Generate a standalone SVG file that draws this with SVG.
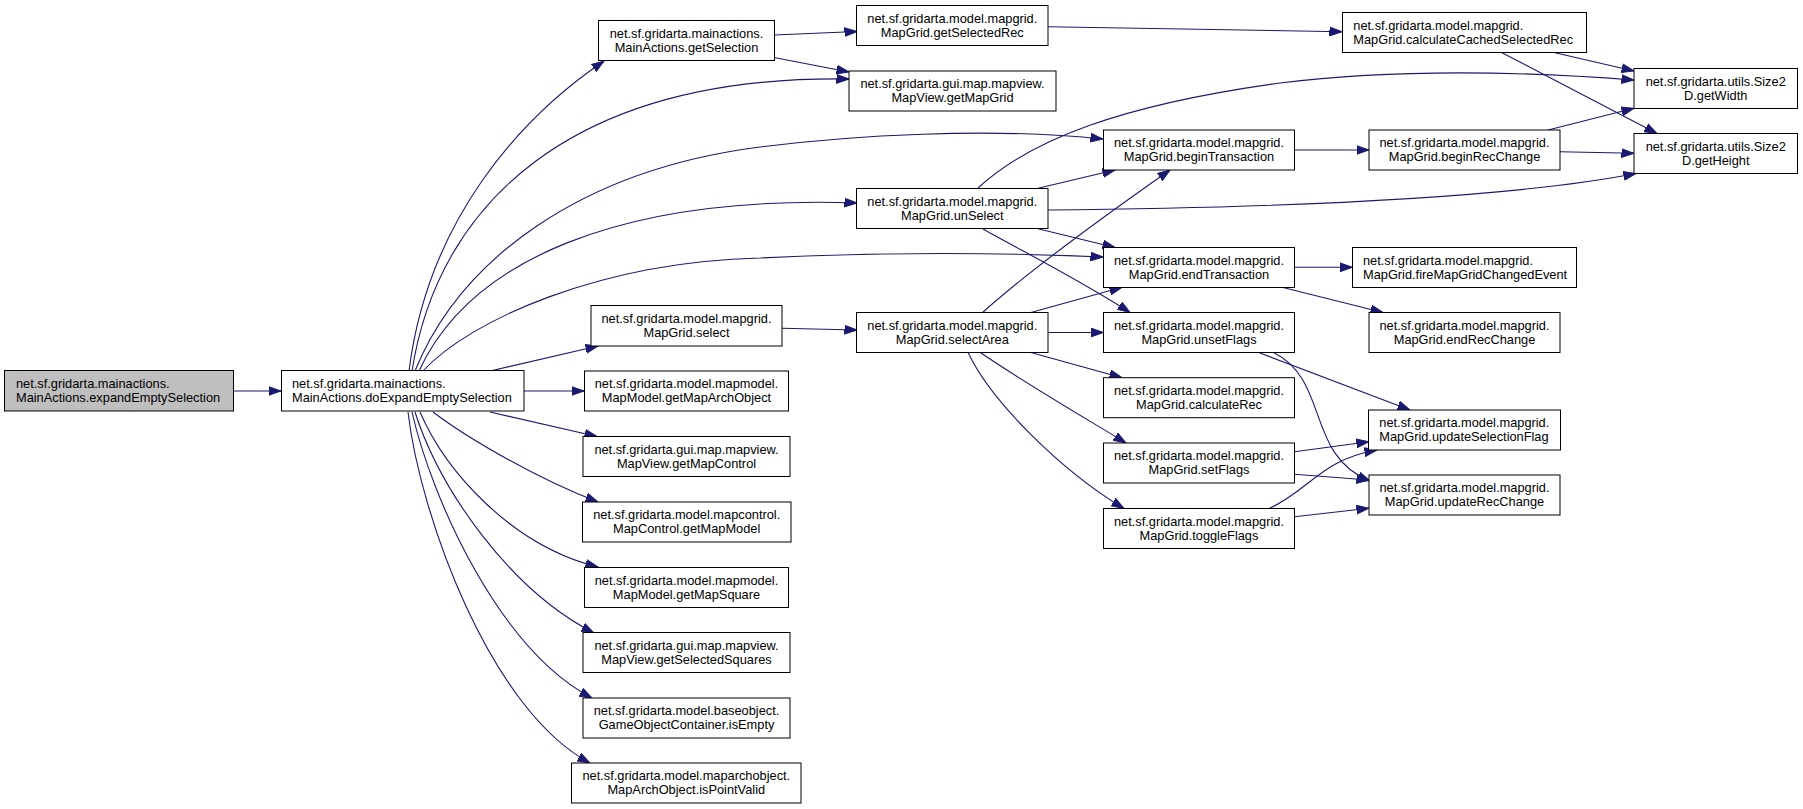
<svg xmlns="http://www.w3.org/2000/svg" width="1803" height="809" viewBox="0 0 1803 809">
<style>
.node rect{fill:#ffffff;stroke:#000000;stroke-width:1}
.node text{font-family:"Liberation Sans",Arial,Helvetica,sans-serif;font-size:12.8px;fill:#000000}
.c{text-anchor:middle}
.edges path{fill:none;stroke:#191970;stroke-width:1.1;marker-end:url(#arr)}
</style>
<defs>
<marker id="arr" markerUnits="userSpaceOnUse" markerWidth="13" markerHeight="10" refX="12.5" refY="5" orient="auto" viewBox="0 0 13 10">
<path d="M0,0.6 L12.5,5 L0,9.4 z" fill="#191970" stroke="#191970" stroke-width="1"/>
</marker>
</defs>
<rect width="1803" height="809" fill="#ffffff"/>
<g class="edges">
<path d="M233.5,391 L281,391"/>
<path d="M409,371 C428,220 520,118 604,61"/>
<path d="M412,371 C438,205 570,75 849,79"/>
<path d="M415,371 C460,260 580,170 760,147 C850,135.5 990,127 1103,139"/>
<path d="M419,371 C470,260 620,195 857,203"/>
<path d="M423,371 C470,320 600,262 760,258 C880,252 990,252 1103,257"/>
<path d="M490,371 L598,346"/>
<path d="M524,391 L584,391"/>
<path d="M490,412 L597,436.5"/>
<path d="M433,412 C470,440 540,480 598,502"/>
<path d="M420,412 C445,470 510,545 598,567"/>
<path d="M415,412 C440,490 510,590 594,633"/>
<path d="M412,412 C432,500 500,650 592,698"/>
<path d="M408,412 C420,515 490,710 590,763"/>
<path d="M774,35 L857,31.5"/>
<path d="M774,57.5 L849,72"/>
<path d="M1048,26.7 L1342,31.7"/>
<path d="M1555,52.7 L1634,71"/>
<path d="M1502,52.7 L1657,133.5"/>
<path d="M978,188 C1030,140 1120,105 1280,83 C1400,68 1530,72 1634,80"/>
<path d="M1038,188.3 L1115,170"/>
<path d="M1048,210 C1250,208 1500,200 1636,173.5"/>
<path d="M1038,228.7 L1115,247.5"/>
<path d="M983,229 C1020,250 1080,280 1130,312.5"/>
<path d="M1294.5,150 L1369,150"/>
<path d="M1548,130 L1634,108.3"/>
<path d="M1560,151.7 L1634,153.3"/>
<path d="M1294.5,267.3 L1352.5,267.3"/>
<path d="M1282,287.3 L1383,312.5"/>
<path d="M782,328.3 L857,330"/>
<path d="M982,313 C1030,270 1120,205 1170,170"/>
<path d="M1030,312.7 L1122,287.3"/>
<path d="M1048,332.5 L1103.5,332.5"/>
<path d="M1030,352.3 L1122,377.7"/>
<path d="M980,352.3 C1020,380 1080,415 1126,443"/>
<path d="M968,352.3 C990,400 1060,470 1124,508.5"/>
<path d="M1258,352.3 L1410,410"/>
<path d="M1273,352.3 C1330,380 1305,455 1370,481"/>
<path d="M1294.5,451.7 L1369,441.7"/>
<path d="M1294.5,474.3 L1369,480"/>
<path d="M1269,508.5 C1310,490 1320,460 1377,450"/>
<path d="M1294.5,516.7 L1369,508.3"/>
</g>
<g id="n_expandEmptySelection" class="node"><rect x="4.5" y="370.5" width="229" height="40.5" style="fill:#bfbfbf"/><text x="16" y="387.8">net.sf.gridarta.mainactions.</text><text x="16" y="401.8">MainActions.expandEmptySelection</text></g>
<g id="n_doExpandEmptySelection" class="node"><rect x="281.5" y="370.5" width="242.5" height="40.5"/><text x="292" y="387.8">net.sf.gridarta.mainactions.</text><text x="292" y="401.8">MainActions.doExpandEmptySelection</text></g>
<g id="n_getSelection" class="node"><rect x="598.5" y="20.5" width="176" height="40"/><text class="c" x="686.5" y="37.7">net.sf.gridarta.mainactions.</text><text class="c" x="686.5" y="51.7">MainActions.getSelection</text></g>
<g id="n_getSelectedRec" class="node"><rect x="856.5" y="5.5" width="191.5" height="40"/><text class="c" x="952.3" y="22.7">net.sf.gridarta.model.mapgrid.</text><text class="c" x="952.3" y="36.7">MapGrid.getSelectedRec</text></g>
<g id="n_getMapGrid" class="node"><rect x="849" y="71" width="207" height="40"/><text class="c" x="952.5" y="88.2">net.sf.gridarta.gui.map.mapview.</text><text class="c" x="952.5" y="102.2">MapView.getMapGrid</text></g>
<g id="n_unSelect" class="node"><rect x="856.5" y="188.5" width="191.5" height="40"/><text class="c" x="952.3" y="205.7">net.sf.gridarta.model.mapgrid.</text><text class="c" x="952.3" y="219.7">MapGrid.unSelect</text></g>
<g id="n_select" class="node"><rect x="591" y="305.5" width="191" height="40.5"/><text class="c" x="686.5" y="322.8">net.sf.gridarta.model.mapgrid.</text><text class="c" x="686.5" y="336.8">MapGrid.select</text></g>
<g id="n_selectArea" class="node"><rect x="856.5" y="312.5" width="191.5" height="40"/><text class="c" x="952.3" y="329.7">net.sf.gridarta.model.mapgrid.</text><text class="c" x="952.3" y="343.7">MapGrid.selectArea</text></g>
<g id="n_getMapArchObject" class="node"><rect x="584.5" y="371" width="204" height="40"/><text class="c" x="686.5" y="388.2">net.sf.gridarta.model.mapmodel.</text><text class="c" x="686.5" y="402.2">MapModel.getMapArchObject</text></g>
<g id="n_getMapControl" class="node"><rect x="583" y="436.5" width="207" height="40"/><text class="c" x="686.5" y="453.7">net.sf.gridarta.gui.map.mapview.</text><text class="c" x="686.5" y="467.7">MapView.getMapControl</text></g>
<g id="n_getMapModel" class="node"><rect x="582.5" y="502" width="208.5" height="40"/><text class="c" x="686.7" y="519.2">net.sf.gridarta.model.mapcontrol.</text><text class="c" x="686.7" y="533.2">MapControl.getMapModel</text></g>
<g id="n_getMapSquare" class="node"><rect x="584.5" y="567.5" width="204" height="40"/><text class="c" x="686.5" y="584.7">net.sf.gridarta.model.mapmodel.</text><text class="c" x="686.5" y="598.7">MapModel.getMapSquare</text></g>
<g id="n_getSelectedSquares" class="node"><rect x="583" y="632.5" width="207" height="40"/><text class="c" x="686.5" y="649.7">net.sf.gridarta.gui.map.mapview.</text><text class="c" x="686.5" y="663.7">MapView.getSelectedSquares</text></g>
<g id="n_isEmpty" class="node"><rect x="583" y="698" width="207" height="40"/><text class="c" x="686.5" y="715.2">net.sf.gridarta.model.baseobject.</text><text class="c" x="686.5" y="729.2">GameObjectContainer.isEmpty</text></g>
<g id="n_isPointValid" class="node"><rect x="571.5" y="763" width="229.5" height="40"/><text class="c" x="686.3" y="780.2">net.sf.gridarta.model.maparchobject.</text><text class="c" x="686.3" y="794.2">MapArchObject.isPointValid</text></g>
<g id="n_beginTransaction" class="node"><rect x="1103.5" y="130" width="191" height="40"/><text class="c" x="1199" y="147.2">net.sf.gridarta.model.mapgrid.</text><text class="c" x="1199" y="161.2">MapGrid.beginTransaction</text></g>
<g id="n_endTransaction" class="node"><rect x="1103.5" y="247.5" width="191" height="40"/><text class="c" x="1199" y="264.7">net.sf.gridarta.model.mapgrid.</text><text class="c" x="1199" y="278.7">MapGrid.endTransaction</text></g>
<g id="n_unsetFlags" class="node"><rect x="1103.5" y="312.5" width="191" height="40"/><text class="c" x="1199" y="329.7">net.sf.gridarta.model.mapgrid.</text><text class="c" x="1199" y="343.7">MapGrid.unsetFlags</text></g>
<g id="n_calculateRec" class="node"><rect x="1103.5" y="377.7" width="191" height="40"/><text class="c" x="1199" y="394.9">net.sf.gridarta.model.mapgrid.</text><text class="c" x="1199" y="408.9">MapGrid.calculateRec</text></g>
<g id="n_setFlags" class="node"><rect x="1103.5" y="443" width="191" height="40"/><text class="c" x="1199" y="460.2">net.sf.gridarta.model.mapgrid.</text><text class="c" x="1199" y="474.2">MapGrid.setFlags</text></g>
<g id="n_toggleFlags" class="node"><rect x="1103.5" y="508.5" width="191" height="40"/><text class="c" x="1199" y="525.7">net.sf.gridarta.model.mapgrid.</text><text class="c" x="1199" y="539.7">MapGrid.toggleFlags</text></g>
<g id="n_calculateCachedSelectedRec" class="node"><rect x="1342.5" y="12.5" width="244" height="40"/><text x="1353.3" y="29.7">net.sf.gridarta.model.mapgrid.</text><text x="1353.3" y="43.7">MapGrid.calculateCachedSelectedRec</text></g>
<g id="n_beginRecChange" class="node"><rect x="1369" y="130" width="191" height="40"/><text class="c" x="1464.5" y="147.2">net.sf.gridarta.model.mapgrid.</text><text class="c" x="1464.5" y="161.2">MapGrid.beginRecChange</text></g>
<g id="n_fireMapGridChangedEvent" class="node"><rect x="1352.5" y="247.5" width="224" height="40"/><text x="1363" y="264.7">net.sf.gridarta.model.mapgrid.</text><text x="1363" y="278.7">MapGrid.fireMapGridChangedEvent</text></g>
<g id="n_endRecChange" class="node"><rect x="1369" y="312.5" width="191" height="40"/><text class="c" x="1464.5" y="329.7">net.sf.gridarta.model.mapgrid.</text><text class="c" x="1464.5" y="343.7">MapGrid.endRecChange</text></g>
<g id="n_updateSelectionFlag" class="node"><rect x="1368.5" y="410" width="192" height="40"/><text x="1379.3" y="427.2">net.sf.gridarta.model.mapgrid.</text><text x="1379.3" y="441.2">MapGrid.updateSelectionFlag</text></g>
<g id="n_updateRecChange" class="node"><rect x="1369" y="475" width="191" height="40"/><text class="c" x="1464.5" y="492.2">net.sf.gridarta.model.mapgrid.</text><text class="c" x="1464.5" y="506.2">MapGrid.updateRecChange</text></g>
<g id="n_getWidth" class="node"><rect x="1634" y="68.5" width="163.5" height="40"/><text class="c" x="1715.7" y="85.7">net.sf.gridarta.utils.Size2</text><text class="c" x="1715.7" y="99.7">D.getWidth</text></g>
<g id="n_getHeight" class="node"><rect x="1634" y="133.5" width="163.5" height="40"/><text class="c" x="1715.7" y="150.7">net.sf.gridarta.utils.Size2</text><text class="c" x="1715.7" y="164.7">D.getHeight</text></g>
</svg>
